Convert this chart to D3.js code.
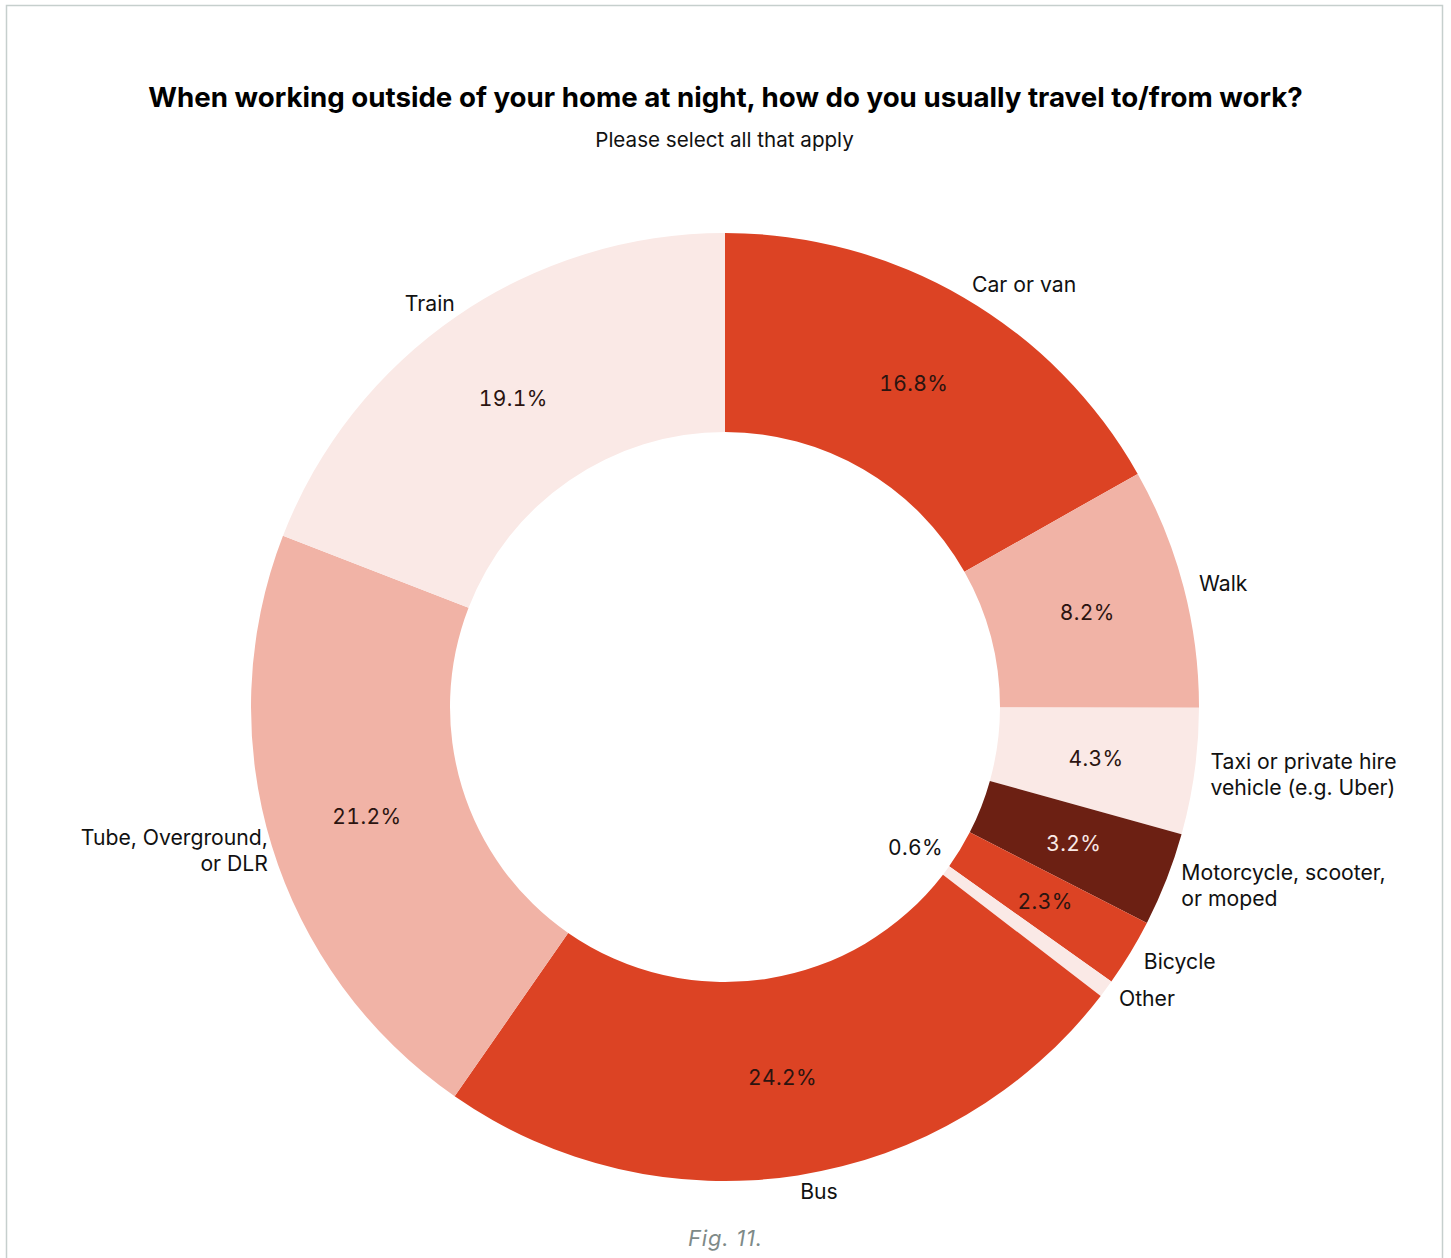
<!DOCTYPE html>
<html>
<head>
<meta charset="utf-8">
<script src="https://cdn.jsdelivr.net/npm/d3@7"></script>
<style>
  html, body { margin: 0; padding: 0; background: #ffffff; }
  svg { display: block; font-family: Inter, "Open Sans", sans-serif; }
</style>
</head>
<body>
<svg id="chart" width="1451" height="1258"></svg>
<script>
// Travel modes, clockwise from 12 o'clock
const categories = [
  "Car or van",
  "Walk",
  "Taxi or private hire\nvehicle (e.g. Uber)",
  "Motorcycle, scooter,\nor moped",
  "Bicycle",
  "Other",
  "Bus",
  "Tube, Overground,\nor DLR",
  "Train"
];
const shares = [16.8, 8.2, 4.3, 3.2, 2.3, 0.6, 24.2, 21.2, 19.1];
const sliceColors = [
  "#dc4324", "#f1b3a6", "#fae9e6", "#6c2013", "#dc4324",
  "#fae9e6", "#dc4324", "#f1b3a6", "#fae9e6"
];
const titleText = "When working outside of your home at night, how do you usually travel to/from work?";
const subtitleText = "Please select all that apply";
const captionText = "Fig. 11.";

const svg = d3.select("#chart");
const W = 1451;

// frame
svg.append("rect")
  .attr("x", 6.5).attr("y", 5.5)
  .attr("width", 1436).attr("height", 1270)
  .attr("fill", "none")
  .attr("stroke", "#c6cfcd")
  .attr("stroke-width", 1.5);

svg.append("text")
  .attr("x", W / 2).attr("y", 107)
  .attr("text-anchor", "middle")
  .attr("font-size", 27.7).attr("font-weight", 700)
  .attr("fill", "#000")
  .text(titleText);

svg.append("text")
  .attr("x", W / 2 - 1).attr("y", 147)
  .attr("text-anchor", "middle")
  .attr("font-size", 20.6)
  .attr("fill", "#111")
  .text(subtitleText);

svg.append("text")
  .attr("x", W / 2).attr("y", 1246)
  .attr("text-anchor", "middle")
  .attr("font-size", 22).attr("font-style", "italic")
  .attr("letter-spacing", 0.8)
  .attr("fill", "#7e8a88")
  .text(captionText);

// donut
const cx = 725, cy = 707;
const outerR = 474, innerR = 275;

const data = categories.map((c, i) => ({ label: c, value: shares[i], color: sliceColors[i] }));

const pie = d3.pie().value(d => d.value).sort(null);
const arcs = pie(data);
const arc = d3.arc().innerRadius(innerR).outerRadius(outerR);

const g = svg.append("g").attr("transform", `translate(${cx},${cy})`);

g.selectAll("path.slice")
  .data(arcs)
  .join("path")
  .attr("class", "slice")
  .attr("d", arc)
  .attr("fill", d => d.data.color);

// value labels
const onDark = d => d3.hsl(d.data.color).l < 0.35;
g.selectAll("text.pct")
  .data(arcs)
  .join("text")
  .attr("class", "pct")
  .attr("transform", d => {
    const mid = (d.startAngle + d.endAngle) / 2;
    if (d.data.value < 1) {
      const r = innerR - 38;
      return `translate(${r * Math.sin(mid)},${-r * Math.cos(mid)})`;
    }
    const [x, y] = arc.centroid(d);
    return `translate(${x},${y})`;
  })
  .attr("text-anchor", "middle")
  .attr("dominant-baseline", "central")
  .attr("font-size", 21)
  .style("font-variant-numeric", "tabular-nums")
  .attr("letter-spacing", 0.4)
  .attr("fill", d => d.data.value < 1 ? "#111" : (onDark(d) ? "#fae9e6" : "#2b1410"))
  .text(d => d.data.value.toFixed(1) + "%");

// category labels outside the ring
const labelR = 490;
const labelRLeft = 478;
const lineH = 26;
g.selectAll("text.cat")
  .data(arcs)
  .join("text")
  .attr("class", "cat")
  .attr("font-size", 21.2)
  .attr("fill", "#111")
  .each(function (d) {
    const mid = (d.startAngle + d.endAngle) / 2;
    const s = Math.sin(mid), c = Math.cos(mid);
    const right = s >= 0;
    const x = (right ? labelR : labelRLeft) * s;
    const y = -labelR * c;
    const lines = d.data.label.split("\n");
    const t = d3.select(this)
      .attr("text-anchor", right ? "start" : "end")
      .attr("dominant-baseline", "central");
    lines.forEach((ln, k) => {
      t.append("tspan")
        .attr("x", x)
        .attr("y", y + (k - (lines.length - 1) / 2) * lineH)
        .text(ln);
    });
  });
</script>
</body>
</html>
